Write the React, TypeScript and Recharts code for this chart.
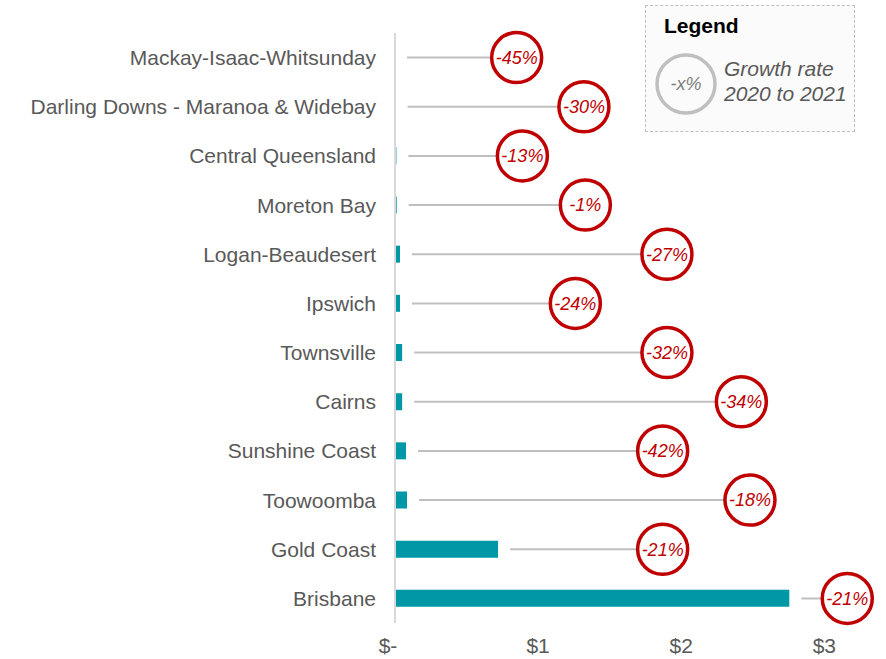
import React from 'react';
import {
  BarChart,
  Bar,
  XAxis,
  YAxis,
  ReferenceLine,
  ReferenceDot,
} from 'recharts';

// regions, top to bottom
const regions = [
  'Mackay-Isaac-Whitsunday',
  'Darling Downs - Maranoa & Widebay',
  'Central Queensland',
  'Moreton Bay',
  'Logan-Beaudesert',
  'Ipswich',
  'Townsville',
  'Cairns',
  'Sunshine Coast',
  'Toowoomba',
  'Gold Coast',
  'Brisbane',
];

// value in $ (2021)
const values = [0, 0.004, 0.01, 0.012, 0.035, 0.035, 0.05, 0.05, 0.077, 0.084, 0.72, 2.755];

// growth rate 2020 to 2021
const growth = ['-45%', '-30%', '-13%', '-1%', '-27%', '-24%', '-32%', '-34%', '-42%', '-18%', '-21%', '-21%'];

// where the growth bubble sits on the $ axis
const bubbleAt = [0.85, 1.32, 0.89, 1.33, 1.9, 1.26, 1.9, 2.42, 1.87, 2.48, 1.87, 3.16];

const xTicks = [0, 1, 2, 3];

const data = regions.map((name, i) => ({
  name,
  value: values[i],
  growth: growth[i],
  bubble: bubbleAt[i],
}));

const FONT = '"Liberation Sans", Arial, sans-serif';
const GREY = '#595959';
const RED = '#C00000';
const TEAL = '#0098A6';

const XTick = (props: any) => {
  const { x, y, payload } = props;
  const label = payload.value === 0 ? '$-' : `$${payload.value}`;
  return (
    <text
      x={payload.value === 0 ? x - 7 : x}
      y={y}
      dy="0.71em"
      textAnchor="middle"
      fill={GREY}
      fontSize={21}
      fontFamily={FONT}
    >
      {label}
    </text>
  );
};

const Connector = (props: any) => {
  const { x1, y1, x2, y2 } = props;
  return <line x1={x1 + 12} y1={y1} x2={x2} y2={y2} stroke="#BFBFBF" strokeWidth={2} />;
};

const makeBubble = (text: string) => (props: any) => {
  const { cx, cy } = props;
  return (
    <g>
      <circle cx={cx} cy={cy} r={25} fill="#fff" stroke={RED} strokeWidth={3.5} />
      <text
        x={cx}
        y={cy}
        dy="0.35em"
        textAnchor="middle"
        fill={RED}
        fontSize={18}
        fontStyle="italic"
        fontFamily={FONT}
      >
        {text}
      </text>
    </g>
  );
};

export default function App() {
  return (
    <div style={{ position: 'absolute', left: 0, top: 0, width: 886, height: 659, background: '#fff', fontFamily: FONT }}>
      <BarChart
        width={886}
        height={659}
        data={data}
        layout="vertical"
        margin={{ top: 33, right: 33, bottom: 0, left: 0 }}
      >
        <XAxis
          type="number"
          domain={[0, 3.2]}
          ticks={xTicks}
          tickLine={false}
          axisLine={false}
          tickSize={0}
          tickMargin={15}
          height={36}
          tick={<XTick />}
        />
        <YAxis
          type="category"
          dataKey="name"
          width={395}
          tickLine={false}
          tickSize={0}
          tickMargin={19}
          axisLine={{ stroke: '#D9D9D9', strokeWidth: 2 }}
          tick={{ fill: GREY, fontSize: 21, fontFamily: FONT }}
          interval={0}
        />
        <Bar dataKey="value" fill={TEAL} barSize={17} isAnimationActive={false} />
        {data.map((d) => (
          <ReferenceLine
            key={`l-${d.name}`}
            segment={[
              { x: d.value, y: d.name },
              { x: d.bubble, y: d.name },
            ]}
            ifOverflow="visible"
            shape={Connector}
          />
        ))}
        {data.map((d) => (
          <ReferenceDot
            key={`d-${d.name}`}
            x={d.bubble}
            y={d.name}
            r={25}
            ifOverflow="visible"
            shape={makeBubble(d.growth)}
          />
        ))}
      </BarChart>

      <div
        style={{
          position: 'absolute',
          left: 645,
          top: 5,
          width: 208,
          height: 125,
          border: '1.5px dashed #BFBFBF',
          background: '#FBFBFB',
        }}
      >
        <svg width={208} height={125} style={{ position: 'absolute', left: 0, top: 0 }}>
          <text x={18} y={27} fontSize={21} fontWeight="bold" fill="#000" fontFamily={FONT}>
            Legend
          </text>
          <circle cx={40} cy={78} r={29} fill="none" stroke="#BFBFBF" strokeWidth={3.5} />
          <text x={40} y={78} dy="0.35em" textAnchor="middle" fontSize={18} fontStyle="italic" fill="#7F7F7F" fontFamily={FONT}>
            -x%
          </text>
          <text x={78} y={70} fontSize={21} fontStyle="italic" fill={GREY} fontFamily={FONT}>
            Growth rate
          </text>
          <text x={78} y={95} fontSize={21} fontStyle="italic" fill={GREY} fontFamily={FONT}>
            2020 to 2021
          </text>
        </svg>
      </div>
    </div>
  );
}
